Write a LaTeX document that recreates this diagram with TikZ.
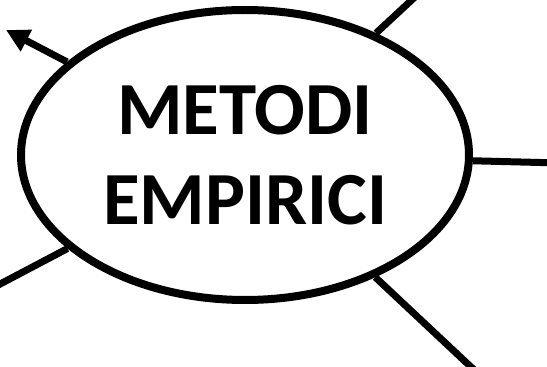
\documentclass[tikz,border=0pt]{standalone}
\usepackage{fontspec}
\setmainfont{Carlito}
\usetikzlibrary{arrows.meta,shapes.geometric}
\tikzset{
  bubble/.style={ellipse,draw,line width=8pt,inner sep=0pt,minimum width=448pt,minimum height=290pt,
    align=center,font=\fontsize{75}{90}\selectfont\bfseries},
  spoke/.style={line width=7pt}
}
\begin{document}
\begin{tikzpicture}[x=1pt,y=1pt]
  \useasboundingbox (0,0) rectangle (547,367);
  \clip (0,0) rectangle (547,367);
  % central topic
  \node[bubble] (metodi) at (245,212) {METODI\\EMPIRICI};
  % free ends of the spokes
  \coordinate (tipNW) at (6,337);
  \coordinate (endNE) at (430,384);
  \coordinate (endE) at (560,204);
  \coordinate (endSW) at (-15,75);
  \coordinate (endSE) at (487,-15);
  % spokes
  \draw[spoke,-{Triangle[length=23pt,width=23pt]}] (metodi) -- (tipNW);
  \draw[spoke] (metodi) -- (endNE);
  \draw[spoke] (metodi) -- (endE);
  \draw[spoke] (metodi) -- (endSW);
  \draw[spoke] (metodi) -- (endSE);
\end{tikzpicture}
\end{document}
